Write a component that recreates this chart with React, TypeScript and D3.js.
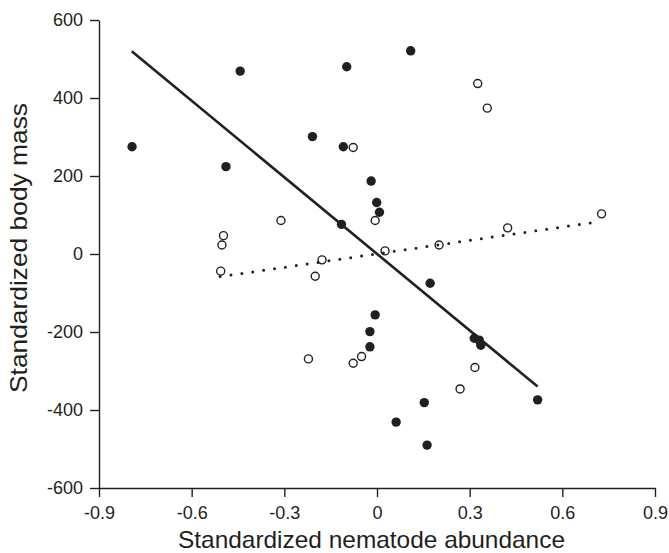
import React, { useEffect, useRef } from 'react';
import * as d3 from 'd3';

// filled circles: [nematode abundance, body mass]
const filledPoints: [number, number][] = [
  [-0.793, 275], [-0.489, 224], [-0.443, 469], [-0.098, 480], [0.109, 521],
  [-0.209, 301], [-0.109, 275], [-0.019, 187], [-0.001, 132], [0.008, 107],
  [-0.115, 76], [0.172, -75], [-0.006, -156], [-0.023, -199], [-0.023, -238],
  [0.153, -381], [0.062, -431], [0.162, -490], [0.315, -216], [0.331, -221],
  [0.336, -234], [0.52, -374],
];

// open circles
const openPoints: [number, number][] = [
  [-0.077, 273], [-0.311, 86], [-0.006, 86], [-0.497, 47], [-0.502, 23],
  [0.026, 8], [-0.178, -15], [-0.506, -44], [-0.2, -57], [0.201, 23],
  [0.326, 437], [0.357, 374], [0.727, 103], [0.423, 67], [-0.05, -263],
  [-0.077, -280], [-0.222, -269], [0.317, -291], [0.269, -346],
];

// fitted lines (endpoints)
const solidFit: [number, number][] = [[-0.794, 520], [0.52, -340]];
const dottedFit: [number, number][] = [[-0.508, -58], [0.71, 82]];

const xTicks = [-0.9, -0.6, -0.3, 0, 0.3, 0.6, 0.9];
const yTicks = [-600, -400, -200, 0, 200, 400, 600];

const xLabel = 'Standardized nematode abundance';
const yLabel = 'Standardized body mass';

export default function App() {
  const svgRef = useRef<SVGSVGElement>(null);

  useEffect(() => {
    const width = 669;
    const height = 553;
    const svg = d3.select(svgRef.current);
    svg.selectAll('*').remove();
    svg.attr('width', width).attr('height', height);

    const x = d3.scaleLinear().domain([-0.9, 0.9]).range([99, 655]);
    const y = d3.scaleLinear().domain([-600, 600]).range([488, 20]);

    const font = '"Liberation Sans", Arial, Helvetica, sans-serif';
    const ink = '#231f20';

    const xAxis = d3
      .axisBottom(x)
      .tickValues(xTicks)
      .tickSize(9)
      .tickSizeOuter(0)
      .tickPadding(9)
      .tickFormat((d) => (Number(d) === 0 ? '0' : Number(d).toFixed(1)));

    const yAxis = d3
      .axisLeft(y)
      .tickValues(yTicks)
      .tickSize(9)
      .tickSizeOuter(0)
      .tickPadding(7)
      .tickFormat((d) => String(d));

    const gx = svg.append('g').attr('transform', `translate(0,${y(-600)})`).call(xAxis);
    const gy = svg.append('g').attr('transform', `translate(${x(-0.9)},0)`).call(yAxis);

    [gx, gy].forEach((g) => {
      g.select('.domain').attr('stroke', ink).attr('stroke-width', 1.4);
      g.selectAll('.tick line').attr('stroke', ink).attr('stroke-width', 1.4);
      g.selectAll('.tick text')
        .attr('fill', ink)
        .style('font-family', font)
        .style('font-size', '18px');
    });

    // axis titles
    svg
      .append('text')
      .attr('x', 371.5)
      .attr('y', 548)
      .attr('text-anchor', 'middle')
      .attr('fill', ink)
      .style('font-family', font)
      .style('font-size', '24px')
      .attr('textLength', 387)
      .attr('lengthAdjust', 'spacingAndGlyphs')
      .text(xLabel);

    svg
      .append('text')
      .attr('transform', 'translate(27,248) rotate(-90)')
      .attr('text-anchor', 'middle')
      .attr('fill', ink)
      .style('font-family', font)
      .style('font-size', '24px')
      .attr('textLength', 290)
      .attr('lengthAdjust', 'spacingAndGlyphs')
      .text(yLabel);

    const line = d3
      .line<[number, number]>()
      .x((d) => x(d[0]))
      .y((d) => y(d[1]));

    // dotted fit for open circles
    svg
      .append('path')
      .attr('d', line(dottedFit))
      .attr('fill', 'none')
      .attr('stroke', ink)
      .attr('stroke-width', 3)
      .attr('stroke-linecap', 'round')
      .attr('stroke-dasharray', '0 11');

    // open circles
    svg
      .append('g')
      .selectAll('circle')
      .data(openPoints)
      .enter()
      .append('circle')
      .attr('cx', (d) => x(d[0]))
      .attr('cy', (d) => y(d[1]))
      .attr('r', 4)
      .attr('fill', 'none')
      .attr('stroke', ink)
      .attr('stroke-width', 1.4);

    // filled circles
    svg
      .append('g')
      .selectAll('circle')
      .data(filledPoints)
      .enter()
      .append('circle')
      .attr('cx', (d) => x(d[0]))
      .attr('cy', (d) => y(d[1]))
      .attr('r', 4.7)
      .attr('fill', ink);

    // solid fit for filled circles
    svg
      .append('path')
      .attr('d', line(solidFit))
      .attr('fill', 'none')
      .attr('stroke', ink)
      .attr('stroke-width', 2.6);
  }, []);

  return (
    <div style={{ position: 'absolute', left: 0, top: 0, background: '#fff' }}>
      <svg ref={svgRef} style={{ display: 'block' }} />
    </div>
  );
}
